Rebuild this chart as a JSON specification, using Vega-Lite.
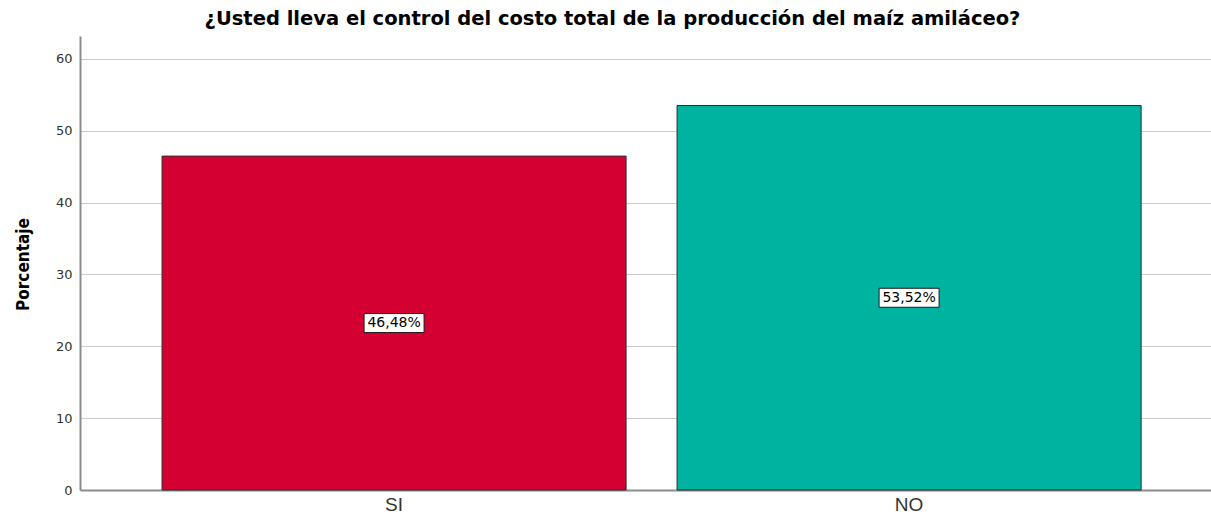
{
  "$schema": "https://vega.github.io/schema/vega-lite/v6.json",
  "autosize": "none",
  "width": 1131,
  "height": 454,
  "padding": {"left": 80, "top": 36, "right": 0, "bottom": 26},
  "background": "white",
  "title": {
    "text": "¿Usted lleva el control del costo total de la producción del maíz amiláceo?",
    "font": "DejaVu Sans",
    "fontSize": 19.5,
    "fontWeight": "bold",
    "color": "#000000",
    "anchor": "middle",
    "dx": -33,
    "offset": 7
  },
  "config": {
    "view": {"stroke": null},
    "font": "DejaVu Sans"
  },
  "data": {
    "values": [
      {"respuesta": "SI", "porcentaje": 46.48, "etiqueta": "46,48%"},
      {"respuesta": "NO", "porcentaje": 53.52, "etiqueta": "53,52%"}
    ]
  },
  "encoding": {
    "x": {
      "field": "respuesta",
      "type": "nominal",
      "sort": ["SI", "NO"],
      "scale": {"paddingInner": 0.099, "paddingOuter": 0.1475, "align": 0.54},
      "axis": {
        "title": null,
        "labelAngle": 0,
        "labelFont": "Liberation Sans",
        "labelFontSize": 19,
        "labelColor": "#333333",
        "labelPadding": 5,
        "ticks": false,
        "domainColor": "#8c8c8c",
        "domainWidth": 2,
        "grid": false
      }
    }
  },
  "layer": [
    {
      "mark": {"type": "bar", "stroke": "#2b2b2b", "strokeWidth": 1},
      "encoding": {
        "y": {
          "field": "porcentaje",
          "type": "quantitative",
          "scale": {"domain": [0, 63.2], "nice": false},
          "axis": {
            "values": [0, 10, 20, 30, 40, 50, 60],
            "title": "Porcentaje",
            "titleFont": "DejaVu Sans Condensed",
            "titleFontSize": 17,
            "titleFontWeight": "bold",
            "titleColor": "#000000",
            "titleAngle": -90,
            "titleAlign": "center",
            "titleBaseline": "alphabetic",
            "titleX": -52,
            "titleY": 228,
            "labelFont": "DejaVu Sans",
            "labelFontSize": 13,
            "labelColor": "#333333",
            "labelPadding": 8,
            "ticks": false,
            "domainColor": "#8c8c8c",
            "domainWidth": 2,
            "grid": true,
            "gridColor": "#cccccc",
            "gridWidth": 1
          }
        },
        "color": {
          "field": "respuesta",
          "type": "nominal",
          "scale": {"domain": ["SI", "NO"], "range": ["#d50032", "#00b3a0"]},
          "legend": null
        }
      }
    },
    {
      "transform": [{"calculate": "datum.porcentaje / 2", "as": "medio"}],
      "mark": {
        "type": "point",
        "shape": "M-1,-0.317L1,-0.317L1,0.317L-1,0.317Z",
        "size": 3600,
        "filled": true,
        "fill": "white",
        "stroke": "#1a1a1a",
        "strokeWidth": 1,
        "opacity": 1
      },
      "encoding": {
        "y": {"field": "medio", "type": "quantitative"}
      }
    },
    {
      "transform": [{"calculate": "datum.porcentaje / 2", "as": "medio"}],
      "mark": {"type": "text", "font": "DejaVu Sans", "fontSize": 14, "color": "#000000", "baseline": "middle", "align": "center"},
      "encoding": {
        "y": {"field": "medio", "type": "quantitative"},
        "text": {"field": "etiqueta"}
      }
    }
  ]
}
